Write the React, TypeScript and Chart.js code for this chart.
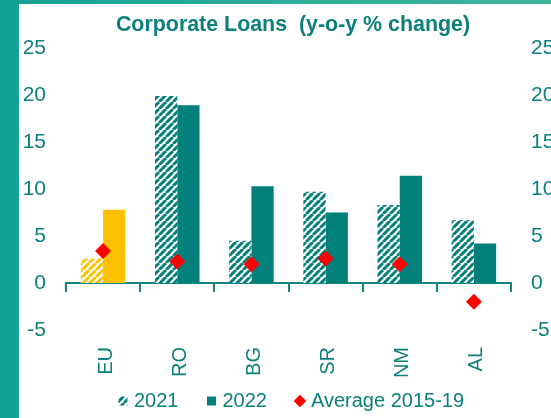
import React, { useEffect, useRef } from 'react';
import { Chart, registerables } from 'chart.js';

Chart.register(...registerables);

const categories = ['EU', 'RO', 'BG', 'SR', 'NM', 'AL'];
const values2021 = [2.6, 19.9, 4.5, 9.7, 8.3, 6.7];
const values2022 = [7.8, 18.9, 10.3, 7.5, 11.4, 4.2];
const average2015to19 = [3.4, 2.3, 2.0, 2.6, 2.0, -2.0];
const seriesLabels = ['2021', '2022', 'Average 2015-19'];
const yMin = -5;
const yMax = 25;
const yStep = 5;
const titleText = 'Corporate Loans  (y-o-y % change)';

const FONT = "'Liberation Sans', Arial, sans-serif";
const TEXT = '#0b7f7c';
const TEAL = '#007f7b';
const YELLOW = '#FFC000';
const RED = '#FF0000';
const AXIS = '#12857f';

function makeHatch(ctx: CanvasRenderingContext2D, color: string) {
  const s = 7;
  const c = document.createElement('canvas');
  c.width = s;
  c.height = s;
  const g = c.getContext('2d') as CanvasRenderingContext2D;
  g.fillStyle = '#ffffff';
  g.fillRect(0, 0, s, s);
  g.strokeStyle = color;
  g.lineWidth = 3;
  g.beginPath();
  for (const o of [-s, 0, s]) {
    g.moveTo(o, s);
    g.lineTo(o + s, 0);
  }
  g.stroke();
  return ctx.createPattern(c, 'repeat') as CanvasPattern;
}

// let the category labels extend below their (short) axis box
const unclipXLabels = {
  id: 'unclipXLabels',
  beforeDraw(chart: any) {
    const s = chart.scales.x;
    if (s) s._computeLabelArea = () => undefined;
  },
};

export default function App() {
  const ref = useRef<HTMLCanvasElement | null>(null);

  useEffect(() => {
    const canvas = ref.current;
    if (!canvas) return;
    const ctx = canvas.getContext('2d') as CanvasRenderingContext2D;
    const tealHatch = makeHatch(ctx, TEAL);
    const yellowHatch = makeHatch(ctx, YELLOW);

    const tickFont = { family: FONT, size: 21 };
    const yAxisCommon = {
      min: yMin,
      max: yMax,
      grid: { display: false, drawTicks: false },
      border: { display: false },
      ticks: { stepSize: yStep, color: TEXT, font: tickFont, padding: 20 },
    };

    const chart = new Chart(ctx, {
      type: 'bar',
      data: {
        labels: categories,
        datasets: [
          {
            type: 'line',
            label: seriesLabels[2],
            data: average2015to19,
            showLine: false,
            pointStyle: 'rectRot',
            pointRadius: 8,
            pointBackgroundColor: RED,
            pointBorderColor: RED,
            pointBorderWidth: 0,
            backgroundColor: RED,
            borderColor: RED,
          } as any,
          {
            label: seriesLabels[0],
            data: values2021,
            backgroundColor: categories.map((c, i) => (i === 0 ? yellowHatch : tealHatch)),
            borderWidth: 0,
            categoryPercentage: 0.6,
            barPercentage: 1,
          },
          {
            label: seriesLabels[1],
            data: values2022,
            backgroundColor: categories.map((c, i) => (i === 0 ? YELLOW : TEAL)),
            borderWidth: 0,
            categoryPercentage: 0.6,
            barPercentage: 1,
          },
        ],
      },
      plugins: [unclipXLabels],
      options: {
        animation: false,
        responsive: false,
        maintainAspectRatio: false,
        layout: { padding: 0 },
        plugins: {
          tooltip: { enabled: false },
          title: {
            display: true,
            text: titleText,
            color: TEXT,
            font: { family: FONT, size: 21.4, weight: 'bold' },
            padding: { top: 8, bottom: 10.3 },
          },
          legend: {
            position: 'bottom',
            labels: {
              usePointStyle: true,
              boxWidth: 2,
              boxHeight: 9,
              padding: 32,
              color: TEXT,
              font: { family: FONT, size: 20 },
              generateLabels: () => [
                { text: seriesLabels[0], fillStyle: tealHatch as any, strokeStyle: 'rgba(0,0,0,0)', lineWidth: 0, pointStyle: 'rect', fontColor: TEXT, datasetIndex: 1 },
                { text: seriesLabels[1], fillStyle: TEAL, strokeStyle: 'rgba(0,0,0,0)', lineWidth: 0, pointStyle: 'rect', fontColor: TEXT, datasetIndex: 2 },
                { text: seriesLabels[2], fillStyle: RED, strokeStyle: 'rgba(0,0,0,0)', lineWidth: 0, pointStyle: 'rectRot', fontColor: TEXT, datasetIndex: 0 },
              ] as any,
            },
          },
        },
        scales: {
          x: {
            type: 'category',
            position: 'bottom',
            grid: { display: false, drawTicks: false },
            border: { display: false },
            ticks: {
              color: TEXT,
              font: { family: FONT, size: 20 },
              minRotation: 90,
              maxRotation: 90,
              autoSkip: false,
              padding: 17,
              labelOffset: 3,
            },
            afterFit: (s: any) => {
              s.height = 29;
            },
          },
          x2: {
            type: 'category',
            labels: categories,
            position: { y: 0 },
            offset: true,
            grid: {
              display: true,
              drawOnChartArea: false,
              drawTicks: true,
              tickLength: 8,
              offset: true,
              color: AXIS,
              lineWidth: 2,
            },
            border: { display: true, color: AXIS, width: 2 },
            ticks: { display: false },
          } as any,
          y: {
            position: 'left',
            ...yAxisCommon,
            afterFit: (s: any) => {
              s.width = 47;
            },
          },
          y1: {
            position: 'right',
            ...yAxisCommon,
            afterFit: (s: any) => {
              s.width = 56;
            },
          },
        },
      } as any,
    });
    return () => chart.destroy();
  }, []);

  return (
    <div
      style={{
        position: 'absolute',
        left: 0,
        top: 0,
        width: 551,
        height: 418,
        overflow: 'hidden',
        background: 'linear-gradient(90deg, #15a096 0%, #2eaf99 60%, #3fb59a 100%)',
      }}
    >
      <div
        style={{
          position: 'absolute',
          left: 19,
          top: 4,
          width: 532,
          height: 414,
          overflow: 'hidden',
          background: '#ffffff',
        }}
      >
        <canvas ref={ref} width={548} height={417} style={{ display: 'block', width: 548, height: 417 }} />
      </div>
    </div>
  );
}
